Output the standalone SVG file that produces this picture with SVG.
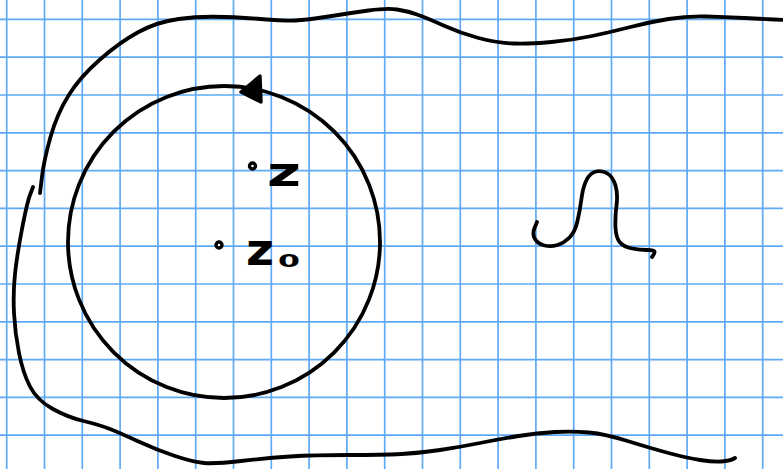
<svg xmlns="http://www.w3.org/2000/svg" width="783" height="469" viewBox="0 0 783 469">
<style>
.grid{stroke:#5faaf5;stroke-width:1.7;fill:none}
.ink{stroke:#000;stroke-width:3.8;fill:none;stroke-linecap:round;stroke-linejoin:round}
.lbl{font-family:"DejaVu Sans",sans-serif;font-weight:bold;fill:#000}
.dot{fill:#fff;stroke:#000;stroke-width:3.4}
</style>
<rect width="783" height="469" fill="#fff"/>
<path class="grid" d="M6.7,0V469M44.5,0V469M82.3,0V469M120.1,0V469M157.9,0V469M195.7,0V469M233.5,0V469M271.3,0V469M309.1,0V469M346.9,0V469M384.7,0V469M422.5,0V469M460.3,0V469M498.1,0V469M535.9,0V469M573.7,0V469M611.5,0V469M649.3,0V469M687.1,0V469M724.9,0V469M762.7,0V469M0,19.4H783M0,57.2H783M0,95H783M0,132.8H783M0,170.6H783M0,208.4H783M0,246.2H783M0,284H783M0,321.8H783M0,359.6H783M0,397.4H783M0,435.2H783"/>
<g id="contour">
<path class="ink" d="M40,193 L42,176.5 Q44,160 50.5,137 Q57,114 68.5,95.5 Q80,77 100,59.5 Q120,42 138.5,32 Q157,22 178.5,19 Q200,16 225,17 Q250,18 266.5,19.5 Q283,21 295,20.5 Q307,20 328.5,16.5 Q350,13 368.5,10.5 Q387,8 397,9.5 Q407,11 417,14.5 Q427,18 443.5,25.5 Q460,33 478.5,38 Q497,43 513.5,43.5 Q530,44 551.5,42 Q573,40 592,36 Q611,32 630.5,27 Q650,22 668.5,19 Q687,16 706,16.5 Q725,17 744,18 Q763,19 774,19.5 L785,20"/>
<path class="ink" d="M33,187 L30,195 Q27,203 22,229 Q17,255 15,274 Q13,293 14,313 Q15,333 19,353 Q23,373 30,386.5 Q37,400 52,408.5 Q67,417 83.5,421 Q100,425 110,429 Q120,433 138.5,441.5 Q157,450 175,456 Q193,462 204,463 Q215,464 241,461 Q267,458 290,456.5 Q313,455 348,455 Q383,455 401.5,454 Q420,453 440,450 Q460,447 480,443 Q500,439 518.5,436 Q537,433 555,432 Q573,431 589,432.5 Q605,434 627.5,441 Q650,448 668.5,453 Q687,458 700,460 Q713,462 721.5,461.5 Q730,461 735,458"/>
</g>
<g id="circle">
<circle class="ink" cx="224" cy="242" r="156" stroke-width="3.5"/>
<path d="M241,92 L260,76 L261,102 Z" fill="#000" stroke="#000" stroke-width="3.4" stroke-linejoin="round"/>
</g>
<g id="point-z">
<circle class="dot" cx="252.5" cy="166" r="3"/>
<text class="lbl" x="267" y="186" font-size="40" textLength="34" lengthAdjust="spacingAndGlyphs">z</text>
</g>
<g id="point-z0">
<circle class="dot" cx="219" cy="245" r="3"/>
<text class="lbl" x="246" y="265" font-size="44" textLength="28" lengthAdjust="spacingAndGlyphs">z</text>
<text class="lbl" x="278" y="267" font-size="17" font-weight="normal" textLength="22" lengthAdjust="spacingAndGlyphs">0</text>
</g>
<g id="squiggle">
<path class="ink" d="M537,222 L534.5,228 Q532,234 535,239 Q538,244 544.5,245.5 Q551,247 557.5,245 Q564,243 569.5,237.5 Q575,232 577.5,221 Q580,210 581.5,198.5 Q583,187 586.5,180 Q590,173 596,171.5 Q602,170 607.5,173.5 Q613,177 615.5,185.5 Q618,194 616.5,205.5 Q615,217 615.5,227.5 Q616,238 620,242.5 Q624,247 632,248.5 Q640,250 647,250 Q654,250 654.5,251.5 Q655,253 652,257"/>
</g>
</svg>
